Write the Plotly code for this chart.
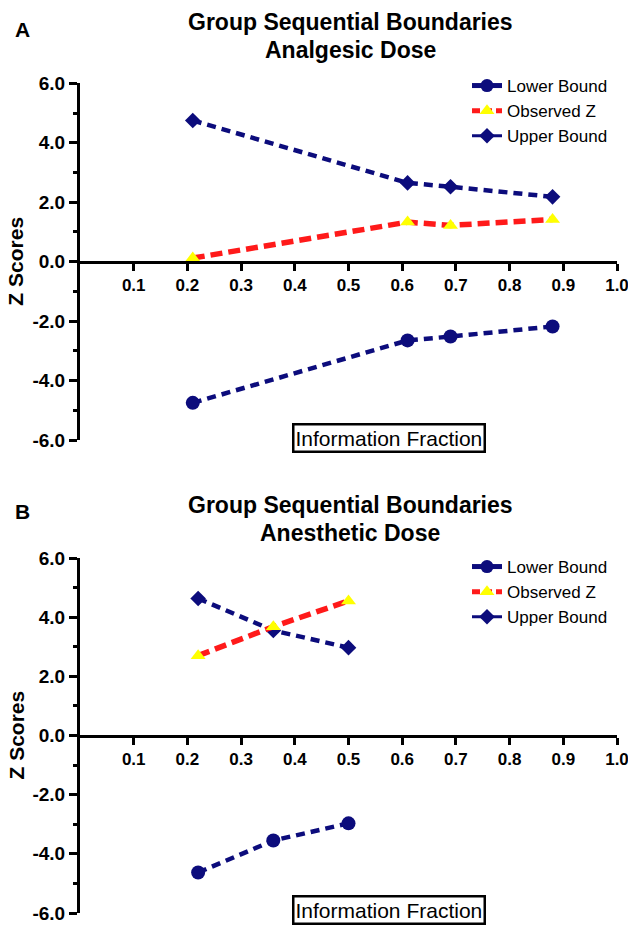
import plotly.graph_objects as go

# Target canvas is 628x927; body margin removed via post_script.
OFF = 0
FW, FH = 628, 927

# Panel A: Analgesic Dose
a_info = [0.21, 0.61, 0.69, 0.88]
a_upper = [4.75, 2.65, 2.52, 2.18]
a_obs = [0.12, 1.33, 1.22, 1.42]
a_lower = [-4.75, -2.65, -2.52, -2.18]

# Panel B: Anesthetic Dose
b_info = [0.22, 0.36, 0.50]
b_upper = [4.63, 3.55, 2.97]
b_obs = [2.70, 3.68, 4.55]
b_lower = [-4.63, -3.55, -2.97]

x_ticks = [0.1, 0.2, 0.3, 0.4, 0.5, 0.6, 0.7, 0.8, 0.9, 1.0]
y_ticks = [-6, -4, -2, 0, 2, 4, 6]
y_ticklabels = ["-6.0", "-4.0", "-2.0", "0.0", "2.0", "4.0", "6.0"]

NAVY = "#0c0c7c"
RED = "#ff1a1a"
YEL = "#ffff00"
FONT = "Liberation Sans, Arial, sans-serif"


def fx(p):
    return (p - OFF) / FW


def fy(p):
    return 1 - (p - OFF) / FH


fig = go.Figure()

panels = [
    dict(xa="x", ya="y", leg="legend", info=a_info, up=a_upper, ob=a_obs, lo=a_lower,
         top=83.3, bot=440, label="A", sub="Analgesic Dose", off=0, legtop=68, box=438),
    dict(xa="x2", ya="y2", leg="legend2", info=b_info, up=b_upper, ob=b_obs, lo=b_lower,
         top=558, bot=913, label="B", sub="Anesthetic Dose", off=483, legtop=549, box=910),
]

for p in panels:
    fig.add_trace(go.Scatter(x=p["info"], y=p["up"], mode="lines+markers", xaxis=p["xa"], yaxis=p["ya"],
                             line=dict(color=NAVY, width=4.5, dash="9px,6px"),
                             marker=dict(symbol="diamond", size=12, color=NAVY),
                             showlegend=False, cliponaxis=False))
    fig.add_trace(go.Scatter(x=p["info"], y=p["ob"], mode="lines+markers", xaxis=p["xa"], yaxis=p["ya"],
                             line=dict(color=RED, width=5.5, dash="12px,6px"),
                             marker=dict(symbol="triangle-up", size=13, color=YEL),
                             showlegend=False, cliponaxis=False))
    fig.add_trace(go.Scatter(x=p["info"], y=p["lo"], mode="lines+markers", xaxis=p["xa"], yaxis=p["ya"],
                             line=dict(color=NAVY, width=4.5, dash="9px,6px"),
                             marker=dict(symbol="circle", size=14, color=NAVY),
                             showlegend=False, cliponaxis=False))
    # legend entries
    fig.add_trace(go.Scatter(x=[None], y=[None], mode="lines+markers", xaxis=p["xa"], yaxis=p["ya"],
                             name="Lower Bound", legend=p["leg"],
                             line=dict(color=NAVY, width=5),
                             marker=dict(symbol="circle", size=13, color=NAVY)))
    fig.add_trace(go.Scatter(x=[None], y=[None], mode="lines+markers", xaxis=p["xa"], yaxis=p["ya"],
                             name="Observed Z", legend=p["leg"],
                             line=dict(color=RED, width=5, dash="8px,4px"),
                             marker=dict(symbol="triangle-up", size=13, color=YEL)))
    fig.add_trace(go.Scatter(x=[None], y=[None], mode="lines+markers", xaxis=p["xa"], yaxis=p["ya"],
                             name="Upper Bound", legend=p["leg"],
                             line=dict(color=NAVY, width=3),
                             marker=dict(symbol="diamond", size=12, color=NAVY)))

layout = dict(
    width=FW, height=FH,
    margin=dict(l=0, r=0, t=0, b=0),
    paper_bgcolor="white", plot_bgcolor="white",
    font=dict(family=FONT, color="black"),
    showlegend=True,
)

annotations = []
for i, p in enumerate(panels):
    sfx = "" if i == 0 else "2"
    d0, d1 = fy(p["bot"]), fy(p["top"])
    layout["xaxis" + sfx] = dict(
        domain=[fx(80), fx(617)], range=[0, 1.0], anchor="free", position=(d0 + d1) / 2,
        tickvals=x_ticks, ticktext=[f"{v:.1f}" for v in x_ticks],
        ticks="outside", ticklen=7, tickwidth=3, tickcolor="black",
        showline=True, linewidth=3, linecolor="black", showgrid=False, zeroline=False,
        tickfont=dict(size=17, family=FONT, weight="bold"), automargin=False,
        ticklabeloverflow="allow",
    )
    layout["yaxis" + sfx] = dict(
        domain=[d0, d1], range=[-6, 6], anchor="x" + sfx,
        tickvals=y_ticks, ticktext=y_ticklabels,
        ticks="outside", ticklen=8, tickwidth=3, tickcolor="black",
        minor=dict(dtick=1, tick0=0, ticks="outside", ticklen=4, tickwidth=2.5, tickcolor="black"),
        showline=True, linewidth=3, linecolor="black", showgrid=False, zeroline=False,
        tickfont=dict(size=19, family=FONT, weight="bold"), automargin=False,
        ticklabeloverflow="allow",
    )
    leg = dict(x=fx(467), y=fy(p["legtop"]), xanchor="left", yanchor="top",
               font=dict(size=17, family=FONT), bgcolor="rgba(0,0,0,0)",
               itemwidth=30, tracegroupgap=0)
    layout["legend" if i == 0 else "legend2"] = leg

    off = p["off"]
    annotations += [
        dict(text="<b>" + p["label"] + "</b>", x=fx(22), y=fy(off + 29), xref="paper", yref="paper",
             showarrow=False, font=dict(size=21, family=FONT), xanchor="center", yanchor="middle"),
        dict(text="<b>Group Sequential Boundaries</b>", x=fx(350), y=fy(off + 22), xref="paper", yref="paper",
             showarrow=False, font=dict(size=23, family=FONT), xanchor="center", yanchor="middle"),
        dict(text="<b>" + p["sub"] + "</b>", x=fx(350), y=fy(off + 50), xref="paper", yref="paper",
             showarrow=False, font=dict(size=23, family=FONT), xanchor="center", yanchor="middle"),
        dict(text="<b>Z Scores</b>", x=fx(16), y=(d0 + d1) / 2, xref="paper", yref="paper",
             showarrow=False, textangle=-90, font=dict(size=21, family=FONT), xanchor="center", yanchor="middle"),
        dict(text="Information Fraction", x=fx(389), y=fy(p["box"]), xref="paper", yref="paper",
             showarrow=False, font=dict(size=21, family=FONT), xanchor="center", yanchor="middle",
             bordercolor="black", borderwidth=2.5, borderpad=1, bgcolor="white"),
    ]

layout["annotations"] = annotations
fig.update_layout(**layout)
fig.write_html("out.html",
               config={"displayModeBar": False},
               post_script="document.body.style.margin='0px'; document.body.style.overflow='hidden';")
